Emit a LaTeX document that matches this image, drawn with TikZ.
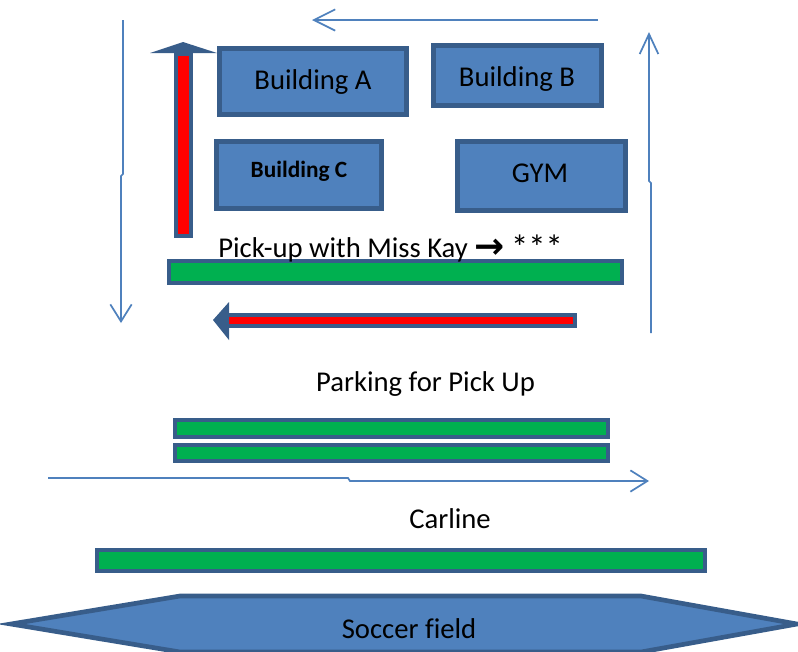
\documentclass[tikz,border=0pt]{standalone}
\usepackage{fontspec}
\setmainfont{Carlito}[Ligatures=NoCommon]
\newfontfamily\symfont{DejaVu Sans}[BoldFont=DejaVu Sans Bold]
\usetikzlibrary{arrows.meta}
\definecolor{bfill}{HTML}{4F81BD}
\definecolor{bline}{HTML}{385D8A}
\definecolor{gfill}{HTML}{00B050}
\definecolor{thinblue}{HTML}{4F81BD}
\begin{document}
\begin{tikzpicture}[x=0.75pt,y=-0.75pt,
  bld/.style={draw=bline,fill=bfill,line width=3.5pt,inner sep=0pt,outer sep=0pt},
  bar/.style={draw=bline,fill=gfill,line width=3pt,inner sep=0pt,outer sep=0pt},
  lbl/.style={font=\fontsize{21.5}{24}\selectfont,inner sep=0pt,anchor=base},
  lblc/.style={font=\fontsize{17.5}{20}\selectfont\bfseries,inner sep=0pt,anchor=base},
  flow/.style={draw=thinblue,line width=1.3pt},
  tipa/.style={-{Straight Barb[length=12.75pt,width=16pt,line width=1.3pt]}},
  redarrow/.style={draw=bline,fill=red,line width=3pt},
  redhead/.style={fill=bline}]
\useasboundingbox (0,0) rectangle (798,651);
\clip (0,0) rectangle (798,651);

% buildings
\node[bld,minimum width=140.5pt,minimum height=49.75pt] (A) at (313,81.5) {};
\node[lbl] (Atxt) at (313,89) {Building A};
\node[bld,minimum width=126.25pt,minimum height=45.25pt] (B) at (517.5,75.5) {};
\node[lbl] (Btxt) at (517,86) {Building B};
\node[bld,minimum width=124pt,minimum height=50.5pt] (C) at (299,175) {};
\node[lblc] (Ctxt) at (299,177) {Building C};
\node[bld,minimum width=126.25pt,minimum height=52pt] (G) at (541.5,176) {};
\node[lbl] (Gtxt) at (540,182) {GYM};

% green bars
\node[bar,minimum width=339.75pt,minimum height=16.5pt] (bar1) at (395.5,272) {};
\node[bar,minimum width=324.75pt,minimum height=12.75pt] (bar2) at (391.5,428.5) {};
\node[bar,minimum width=324.75pt,minimum height=12pt] (bar3) at (391.5,453) {};
\node[bar,minimum width=456pt,minimum height=15.75pt] (bar4) at (401,560.5) {};

% texts
\node[lbl,anchor=base west] (pick) at (218,257) {Pick-up with Miss Kay {\symfont\bfseries\fontsize{27}{28}\selectfont\raisebox{-1pt}{→}} {\fontsize{26}{28}\selectfont\raisebox{-2pt}{***}}};
\node[lbl] (park) at (425.5,391) {Parking for Pick Up};
\node[lbl] (car) at (450,528) {Carline};

% red block arrows
\draw[redarrow] (176,54) rectangle (191,236);
\fill[redhead] (150,53) -- (183,42) -- (217,53) -- cycle;
\draw[redarrow] (222,315) rectangle (575,326);
\fill[redhead] (229,302) -- (213,320) -- (229,340) -- cycle;

% thin flow arrows
\coordinate (l1) at (123,20);
\coordinate (l2) at (123,174);
\coordinate (l3) at (121,176);
\coordinate (l4) at (121,323);
\draw[flow,tipa] (l1) -- (l2) -- (l3) -- (l4);

\coordinate (t1) at (598,20);
\coordinate (t2) at (312,20);
\draw[flow,-{Straight Barb[length=16pt,width=16pt,line width=1.3pt]}] (t1) -- (t2);

\coordinate (r1) at (651,333);
\coordinate (r2) at (651,183);
\coordinate (r3) at (649,181);
\coordinate (r4) at (649,32);
\draw[flow,-{Straight Barb[length=15pt,width=14pt,line width=1.3pt]}] (r1) -- (r2) -- (r3) -- (r4);

\coordinate (b1) at (48,478);
\coordinate (b2) at (348,478);
\coordinate (b3) at (350,481);
\coordinate (b4) at (649,481);
\draw[flow,tipa] (b1) -- (b2) -- (b3) -- (b4);

% soccer field
\draw[bld] (11,624) -- (180,596) -- (641,596) -- (797,624) -- (641,652) -- (180,652) -- cycle;
\node[lbl] (soc) at (409,638) {Soccer field};
\end{tikzpicture}
\end{document}
